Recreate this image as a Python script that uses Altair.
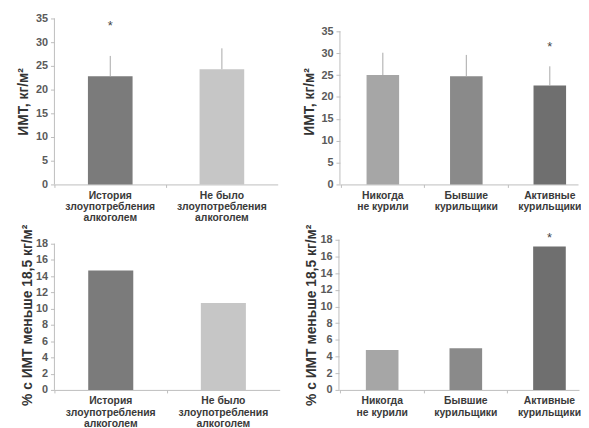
import altair as alt
import pandas as pd

# ---- data ----
alc_cats = ["История\nзлоупотребления\nалкоголем", "Не было\nзлоупотребления\nалкоголем"]
smoke_cats = ["Никогда\nне курили", "Бывшие\nкурильщики", "Активные\nкурильщики"]

bmi_alc = [22.8, 24.3]
bmi_alc_err = [4.3, 4.4]
bmi_alc_star = ["*", ""]

bmi_smoke = [25.0, 24.7, 22.6]
bmi_smoke_err = [5.1, 4.9, 4.4]
bmi_smoke_star = ["", "", "*"]

low_alc = [14.7, 10.7]
low_alc_star = ["", ""]

low_smoke = [4.8, 5.0, 17.2]
low_smoke_star = ["", "", "*"]

alc_colors = ["#7b7b7b", "#c6c6c6"]
smoke_colors = ["#a6a6a6", "#8a8a8a", "#6f6f6f"]

FONT = "Liberation Sans"
AXIS_GREY = "#bdbdbd"


def panel(cats, vals, errs, stars, colors, ytitle, ymax, ystep, dom_max, w, h,
          star_dy, title_pad, p_in, p_out, align):
    df = pd.DataFrame({
        "cat": cats,
        "val": vals,
        "err": errs if errs is not None else [0] * len(cats),
        "star": stars,
        "col": colors,
    })
    df["top"] = df["val"] + df["err"]
    df["sy"] = df["top"] + star_dy

    xaxis = alt.Axis(
        title=None, labelAngle=0, labelExpr="split(datum.label, '\\n')",
        labelFont=FONT, labelFontSize=10.5, labelFontWeight="bold", labelColor="#3a3a3a",
        labelLineHeight=11.5, labelPadding=3,
        domainColor=AXIS_GREY, tickColor=AXIS_GREY, tickSize=3,
        bandPosition=-(p_in / 2) / (1 - p_in),
    )
    yscale = alt.Scale(domain=[0, dom_max], nice=False, zero=True)
    yaxis = alt.Axis(
        values=list(range(0, ymax + 1, ystep)), title=ytitle, grid=False, domain=False,
        labelFont=FONT, labelFontSize=11, labelColor="#5a5a5a", labelFontWeight="bold",
        titleFont=FONT, titleFontSize=14, titleFontWeight="bold", titleColor="#333333",
        titlePadding=title_pad, tickColor=AXIS_GREY, tickSize=4, labelPadding=3,
        labelOverlap=False,
    )
    x = alt.X("cat:N", sort=cats,
              scale=alt.Scale(paddingInner=p_in, paddingOuter=p_out, align=align),
              axis=xaxis)

    def Y(field):
        return alt.Y(field, scale=yscale, axis=yaxis)

    base = alt.Chart(df)
    bars = base.mark_bar().encode(
        x=x, y=Y("val:Q"),
        color=alt.Color("col:N", scale=None, legend=None),
    )
    layers = [bars]
    if errs is not None:
        layers.append(base.mark_rule(color="#a8a8a8", strokeWidth=1).encode(
            x=x, y=Y("val:Q"), y2="top:Q"))
    layers.append(base.mark_text(
        fontSize=13, color="#444444", font=FONT, baseline="middle", clip=False
    ).encode(x=x, y=Y("sy:Q"), text="star:N"))
    # y axis line from 0 up to the last tick
    line_df = pd.DataFrame({"a": [0], "b": [ymax]})
    layers.append(alt.Chart(line_df).mark_rule(color=AXIS_GREY, strokeWidth=1).encode(
        x=alt.value(0), y=Y("a:Q"), y2="b:Q"))
    return alt.layer(*layers).properties(width=w, height=h)


tl = panel(alc_cats, bmi_alc, bmi_alc_err, bmi_alc_star, alc_colors,
           "ИМТ, кг/м²", 35, 5, 35, 226, 168, 6.2, 5, 0.6, 0.3, 0.5)
tr = panel(smoke_cats, bmi_smoke, bmi_smoke_err, bmi_smoke_star, smoke_colors,
           "ИМТ, кг/м²", 35, 5, 35 * 168 / 155, 241, 168, 4.4, 5, 0.61, 0.231, 0.69)
bl = panel(alc_cats, low_alc, None, low_alc_star, alc_colors,
           "% с ИМТ меньше 18,5 кг/м²", 18, 2, 18 * 152 / 148, 228, 152, 0, 1,
           0.6, 0.3, 0.5)
br = panel(smoke_cats, low_smoke, None, low_smoke_star, smoke_colors,
           "% с ИМТ меньше 18,5 кг/м²", 18, 2, 18, 243, 152, 1.0, 1, 0.61, 0.24, 0.67)

top_row = alt.hconcat(tl, tr, spacing=24)
bot_row = alt.hconcat(bl, br, spacing=25)
chart = alt.vconcat(top_row, bot_row, spacing=0).properties(
    padding={"left": 8, "top": 2, "right": 0, "bottom": 0}
).configure_view(stroke=None)

chart.save("out.html", embed_options={"renderer": "svg", "actions": False})
